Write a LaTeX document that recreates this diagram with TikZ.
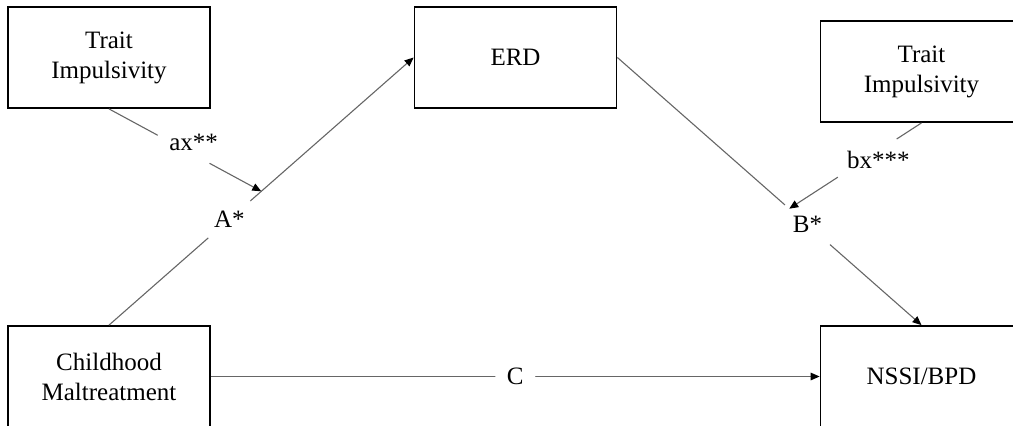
\documentclass[tikz,border=0pt]{standalone}
\usepackage{fontspec}
\setmainfont{Liberation Serif}
\usetikzlibrary{arrows.meta}

\begin{document}
\begin{tikzpicture}[x=0.5pt, y=-0.5pt,
    every node/.style={font=\fontsize{12.5}{15}\selectfont},
    var/.style={draw=black, line width=0.9pt, minimum width=101pt, minimum height=50.5pt, inner sep=0pt, align=center},
    conn/.style={draw=black!60, line width=0.55pt},
    arr/.style={conn, -{Triangle[length=4.5pt, width=3.8pt, color=black]}},
    gap/.style={circle, fill=white, inner sep=0pt}]
  % moderated mediation model
  \useasboundingbox (0,0) rectangle (1013,425);
  \clip (0,0) rectangle (1013,425);

  % variables
  \node[var] (imp1) at (109,57.5) {Trait\\Impulsivity};
  \node[var] (erd) at (515.5,57.5) {ERD};
  \node[var] (imp2) at (921.5,71.5) {Trait\\Impulsivity};
  \node[var] (cm) at (109,376.5) {Childhood\\Maltreatment};
  \node[var] (nssi) at (921.5,376.5) {NSSI/BPD};

  % paths a, b, c
  \draw[arr] (cm.north) -- node[gap, pos=.395, minimum size=28pt] (pa) {A*}
    coordinate[pos=.5] (atip) (erd.west);
  \draw[arr] (erd.east) -- node[gap, pos=.625, minimum size=30pt] (pb) {B*}
    coordinate[pos=.565] (btip) (nssi.north);
  \draw[arr] (cm.east) -- node[gap, pos=.5, minimum size=20pt] (pc) {C} (nssi.west);

  % moderation by impulsivity
  \draw[arr] (imp1.south) -- node[gap, pos=.49, minimum size=29.5pt] (axg) {} (atip);
  \node[xshift=5pt, yshift=3.5pt] (ax) at (axg) {ax**};
  \draw[arr] (imp2.south) -- node[gap, pos=.41, minimum size=35pt] (bxg) {} (btip);
  \node[xshift=5.5pt, yshift=-1pt] (bx) at (bxg) {bx***};
\end{tikzpicture}
\end{document}
